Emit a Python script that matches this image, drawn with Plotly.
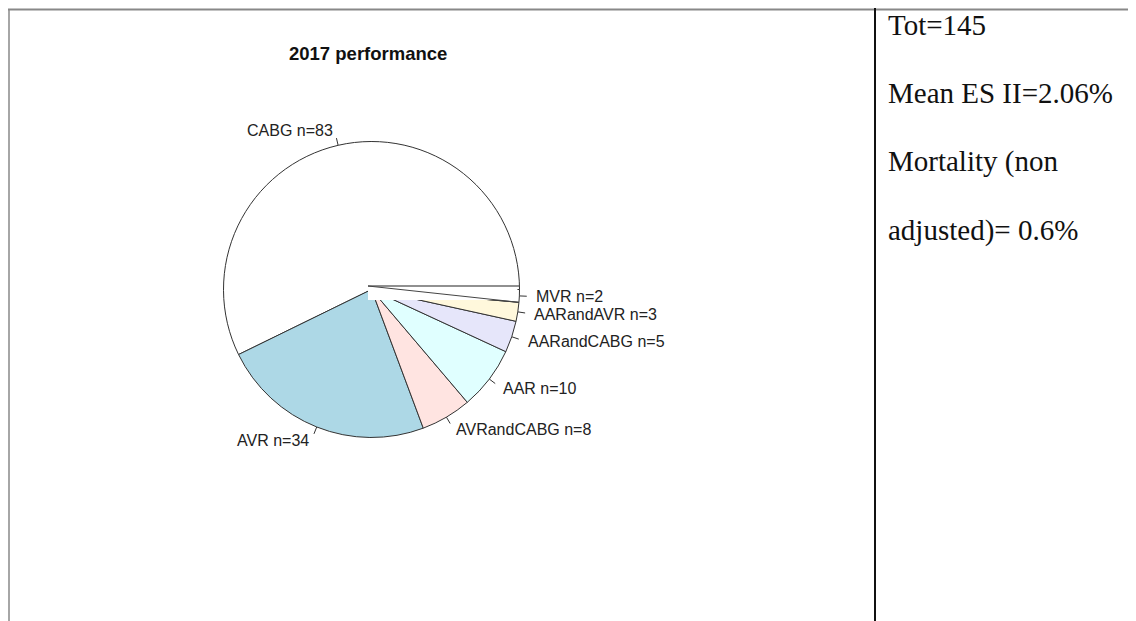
import math
import plotly.graph_objects as go

# ---- data ----
categories = ["CABG", "AVR", "AVRandCABG", "AAR", "AARandCABG", "AARandAVR", "MVR"]
counts = [83, 34, 8, 10, 5, 3, 2]
colors = ["white", "lightblue", "mistyrose", "lightcyan", "lavender", "cornsilk", "white"]
title_text = "2017 performance"
side_lines = ["Tot=145", "Mean ES II=2.06%", "Mortality (non", "adjusted)= 0.6%"]

W, H = 1136, 621
OFF = 8  # page body margin
FW, FH = W - OFF, H - OFF
cx, cy, r = 371.5, 289.5, 148

labels = [f"{c} n={n}" for c, n in zip(categories, counts)]
total = sum(counts)

# R-style pie: first slice starts at 3 o'clock and runs counterclockwise
rotation = 90 - 360 * counts[0] / total

fig = go.Figure()

fig.add_trace(go.Pie(
    values=counts, labels=labels, sort=False, direction="counterclockwise",
    rotation=rotation, textinfo="none", hoverinfo="label",
    marker=dict(colors=colors, line=dict(color="#333333", width=1)),
    domain=dict(x=[(cx - OFF - r) / FW, (cx - OFF + r) / FW],
                y=[1 - (cy - OFF + r) / FH, 1 - (cy - OFF - r) / FH]),
    showlegend=False,
))

annotations = []
cum = 0.0
for lab, n in zip(labels, counts):
    a0 = cum / total * 2 * math.pi
    cum += n
    a1 = cum / total * 2 * math.pi
    mid = (a0 + a1) / 2
    c, s = math.cos(mid), math.sin(mid)
    fig.add_trace(go.Scatter(
        x=[cx + r * c, cx + 1.05 * r * c], y=[cy - r * s, cy - 1.05 * r * s],
        mode="lines", line=dict(color="#333333", width=1), showlegend=False, hoverinfo="skip"))
    annotations.append(dict(
        x=cx + 1.1 * r * c, y=cy - 1.1 * r * s, xref="x", yref="y",
        text=lab, showarrow=False, xanchor="left" if c > 0 else "right", yanchor="middle",
        font=dict(family="Liberation Sans, Arial", size=16, color="#222222")))

annotations.append(dict(
    x=368, y=53, xref="x", yref="y", text=f"<b>{title_text}</b>", showarrow=False,
    xanchor="center", yanchor="middle",
    font=dict(family="Liberation Sans, Arial", size=18.5, color="#111111")))

side_y = [25, 93, 161, 230]
for t, yy in zip(side_lines, side_y):
    annotations.append(dict(
        x=886, y=yy, xref="x", yref="y", text=t, showarrow=False,
        xanchor="left", yanchor="middle",
        font=dict(family="Liberation Serif, Times New Roman", size=29, color="#111111")))

mvr_start = (total - counts[-1]) / total * 2 * math.pi
py = 286  # white patch top edge seen in the reference
shapes = [
    dict(type="line", x0=8, x1=W, y0=9.5, y1=9.5, xref="x", yref="y", line=dict(color="#888888", width=2)),
    dict(type="line", x0=9, x1=9, y0=9, y1=H, xref="x", yref="y", line=dict(color="#888888", width=1.5)),
    dict(type="line", x0=875, x1=875, y0=8, y1=H, xref="x", yref="y", line=dict(color="#111111", width=2)),
    dict(type="rect", x0=368, x1=cx + r * math.cos(mvr_start) - 1.5, y0=py + 0.5, y1=py + 14,
         xref="x", yref="y", fillcolor="white", line=dict(width=0), layer="above"),
    dict(type="line", x0=368, x1=cx + r - 0.5, y0=py, y1=py, xref="x", yref="y",
         line=dict(color="#222222", width=1.2), layer="above"),
    dict(type="line", x0=368, x1=cx + r * math.cos(mvr_start), y0=py,
         y1=cy - r * math.sin(mvr_start), xref="x", yref="y",
         line=dict(color="#444444", width=1), layer="above"),
]

fig.update_layout(
    width=FW, height=FH, margin=dict(l=0, r=0, t=0, b=0),
    paper_bgcolor="white", plot_bgcolor="white",
    xaxis=dict(range=[OFF, W], visible=False, fixedrange=True),
    yaxis=dict(range=[H, OFF], visible=False, fixedrange=True),
    annotations=annotations, shapes=shapes,
)

fig.write_html("out.html")
